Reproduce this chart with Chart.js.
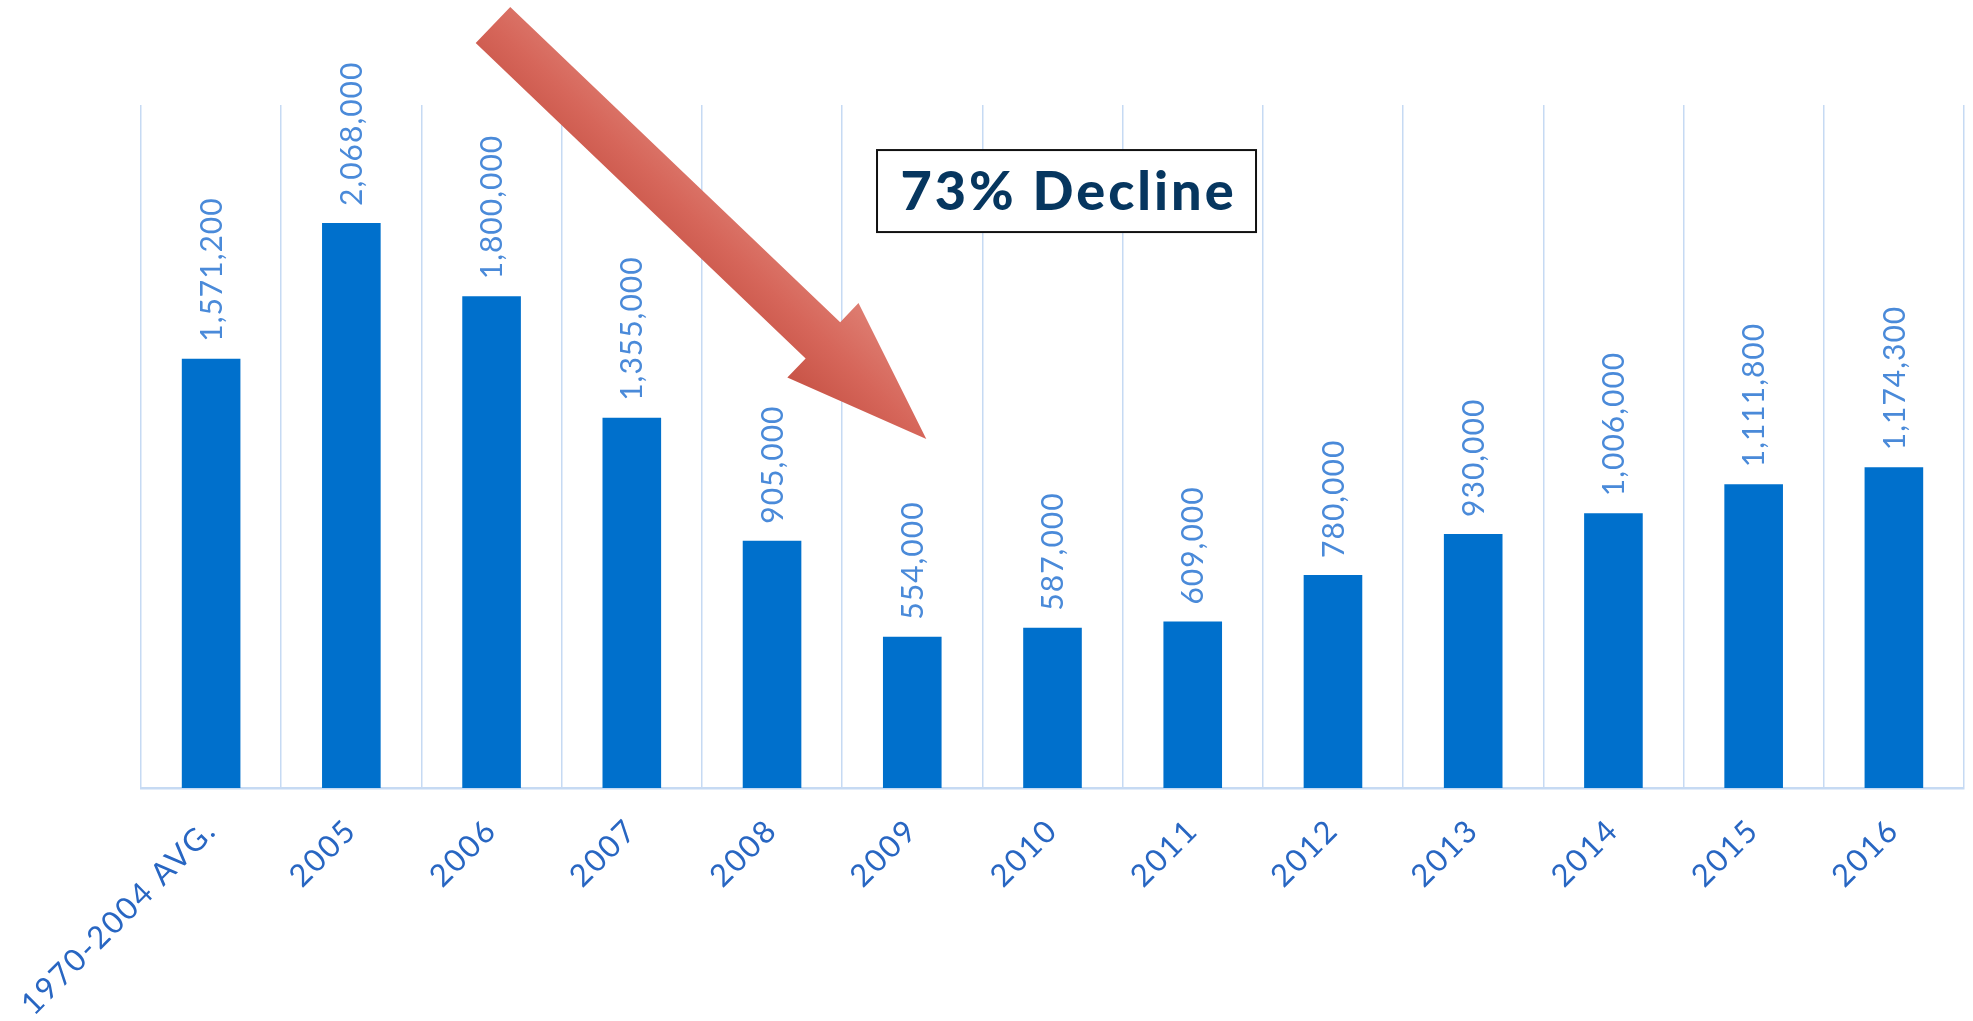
<!DOCTYPE html>
<html>
<head>
<meta charset="utf-8">
<title>Annual totals</title>
<script src="https://cdn.jsdelivr.net/npm/chart.js@4/dist/chart.umd.min.js"></script>
<style>
  html, body { margin: 0; padding: 0; background: #fff; }
  #chart { display: block; }
</style>
</head>
<body>
<canvas id="chart" width="1973" height="1021"></canvas>
<script>
const categories = ['1970-2004 AVG.', '2005', '2006', '2007', '2008', '2009', '2010', '2011', '2012', '2013', '2014', '2015', '2016'];
const totals = [1571200, 2068000, 1800000, 1355000, 905000, 554000, 587000, 609000, 780000, 930000, 1006000, 1111800, 1174300];
const yRange = [0, 2500000];

// callout: arrow from (category index, value) to (category index, value), and a boxed note
const arrowFrom = [2.01, 2793000];
const arrowTo = [5.1, 1277000];
const noteText = '73% Decline';
const noteAt = [6.1, 2185000];

const barColor = '#0070cc';
const gridColor = '#c6daf3';
const tickColor = '#2866c2';
const valueColor = '#4a8ad9';
const noteColor = '#06365f';

function drawArrow(ctx, x0, y0, x1, y1) {
  const len = Math.hypot(x1 - x0, y1 - y0);
  const shaft = 25, head = 51.5, headLen = 143;
  ctx.save();
  ctx.translate(x0, y0);
  ctx.rotate(Math.atan2(y1 - y0, x1 - x0));
  const grad = ctx.createLinearGradient(0, -head, 0, head);
  grad.addColorStop(0, '#de7d71');
  grad.addColorStop(0.5, '#d6665a');
  grad.addColorStop(1, '#c85447');
  ctx.fillStyle = grad;
  ctx.beginPath();
  ctx.moveTo(0, -shaft);
  ctx.lineTo(len - headLen, -shaft);
  ctx.lineTo(len - headLen, -head);
  ctx.lineTo(len, 0);
  ctx.lineTo(len - headLen, head);
  ctx.lineTo(len - headLen, shaft);
  ctx.lineTo(0, shaft);
  ctx.closePath();
  ctx.fill();
  ctx.restore();
}

const valueLabels = {
  id: 'valueLabels',
  afterDatasetsDraw(chart) {
    const ctx = chart.ctx;
    const meta = chart.getDatasetMeta(0);
    ctx.save();
    ctx.font = '400 30px Lato';
    ctx.letterSpacing = '1px';
    ctx.fillStyle = valueColor;
    ctx.textAlign = 'left';
    ctx.textBaseline = 'middle';
    meta.data.forEach((bar, i) => {
      ctx.save();
      ctx.translate(bar.x + 1, bar.y - 17);
      ctx.rotate(-Math.PI / 2);
      ctx.fillText(totals[i].toLocaleString('en-US'), 0, 0);
      ctx.restore();
    });
    ctx.restore();
  }
};

const callout = {
  id: 'callout',
  beforeDraw(chart) {
    // wider tracking for the axis labels
    chart.ctx.letterSpacing = '2px';
  },
  afterDraw(chart) {
    const ctx = chart.ctx;
    const x = chart.scales.x, y = chart.scales.y;
    drawArrow(ctx,
      x.getPixelForValue(arrowFrom[0]), y.getPixelForValue(arrowFrom[1]),
      x.getPixelForValue(arrowTo[0]), y.getPixelForValue(arrowTo[1]));

    const cx = x.getPixelForValue(noteAt[0]);
    const cy = y.getPixelForValue(noteAt[1]);
    ctx.save();
    ctx.font = '900 54px Lato';
    ctx.letterSpacing = '3px';
    const w = 379;
    const h = 82;
    ctx.fillStyle = '#fff';
    ctx.fillRect(cx - w / 2, cy - h / 2, w, h);
    ctx.strokeStyle = '#111';
    ctx.lineWidth = 2;
    ctx.strokeRect(cx - w / 2, cy - h / 2, w, h);
    ctx.fillStyle = noteColor;
    ctx.textAlign = 'center';
    ctx.textBaseline = 'middle';
    ctx.fillText(noteText, cx + 2, cy + 2);
    ctx.restore();
  }
};

new Chart(document.getElementById('chart').getContext('2d'), {
  type: 'bar',
  data: {
    labels: categories,
    datasets: [{
      data: totals,
      backgroundColor: barColor,
      barPercentage: 0.418,
      categoryPercentage: 1
    }]
  },
  options: {
    responsive: false,
    animation: false,
    layout: { padding: { left: 141, right: 9, top: 105, bottom: 0 } },
    plugins: {
      legend: { display: false },
      tooltip: { enabled: false }
    },
    scales: {
      x: {
        grid: { color: gridColor, lineWidth: 1.5, drawTicks: false, offset: true },
        border: { color: gridColor, width: 2.5 },
        ticks: {
          color: tickColor,
          font: { family: 'Lato', size: 31, weight: '400' },
          minRotation: 45,
          maxRotation: 45,
          autoSkip: false,
          padding: 24
        },
        afterFit(scale) { scale.height = 233; }
      },
      y: {
        display: false,
        min: yRange[0],
        max: yRange[1]
      }
    }
  },
  plugins: [valueLabels, callout]
});
</script>
</body>
</html>
